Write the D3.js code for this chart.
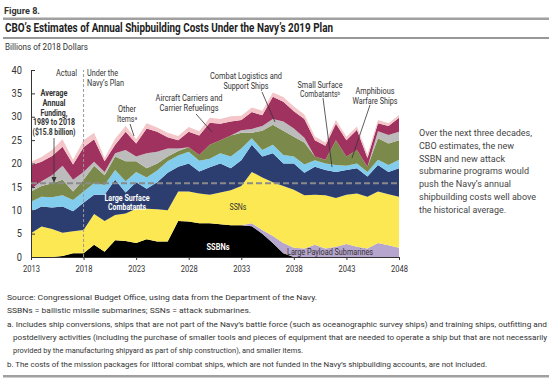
<!DOCTYPE html>
<html><head><meta charset="utf-8">
<script src="https://cdn.jsdelivr.net/npm/d3@7"></script>
<style>
body{margin:0;background:#fff;}
svg{display:block;}
text{font-family:'Roboto','Liberation Sans',sans-serif;}
</style></head><body>
<svg id="c" width="552" height="383"></svg>
<script>
const years = d3.range(2013, 2049);
const seriesKeys = ["SSBNs","Large Payload Submarines","SSNs","Large Surface Combatants","Small Surface Combatants","Amphibious Warfare Ships","Combat Logistics and Support Ships","Aircraft Carriers and Carrier Refuelings","Other Items"];
const ssbn  = [0,0,0,0.2,0.8,0.8,2.6,1.1,3.6,3.4,3.0,3.8,3.3,3.3,7.7,7.6,7.2,7.2,7.0,6.8,6.8,6.6,5.0,3.0,0.8,0,0,0,0,0,0,0,0,0,0,0];
const lps   = [0,0,0,0,0,0,0,0,0,0,0,0,0,0,0,0,0,0,0,0,0,0.6,0.8,1.5,2.2,2.0,1.8,2.6,1.8,2.2,2.8,2.2,1.8,3.0,2.5,2.0];
const ssn   = [5.1,6.5,6.0,5.0,4.7,5.0,6.6,6.6,5.4,5.9,7.3,6.5,6.9,6.7,6.3,6.4,6.4,6.1,6.8,7.5,8.4,11.0,11.2,11.5,12.2,12.4,11.4,10.7,11.4,10.4,10.5,11.4,11.1,11.0,10.9,10.9];
const lsc   = [4.6,4.3,4.6,5.6,4.3,5.8,4.1,5.6,7.5,4.5,5.7,4.3,5.8,8.0,5.3,6.0,4.7,5.9,6.2,4.7,5.5,5.8,4.5,6.2,4.8,5.6,4.8,6.0,5.4,5.6,5.3,5.4,4.3,5.7,4.8,6.1];
const ssc   = [2.1,2.1,2.2,2.4,2.4,2.4,2.5,2.1,2.1,2.4,2.2,2.4,2.5,2.5,2.4,2.5,2.3,1.8,2.2,2.5,2.5,1.4,1.4,1.8,1.8,1.5,1.8,1.4,1.4,1.5,0.9,1.0,1.0,1.1,1.5,1.8];
const amph  = [2.2,2.3,3.0,3.3,1.8,2.5,3.7,2.1,2.9,4.3,2.3,2.0,1.5,1.0,1.0,1.0,1.2,3.0,2.8,4.5,3.4,1.2,4.1,4.3,5.2,4.2,4.7,0.8,0.8,5.3,2.0,2.9,1.1,4.6,4.6,4.2];
const clss  = [0.6,1.0,1.7,3.0,2.5,1.7,0.9,0.7,0.7,2.4,1.0,3.2,2.5,1.7,0.5,0,0,0,0,0,0.5,0.8,1.0,1.2,2.0,1.8,1.0,0,0,0,0,0,0,1.5,1.8,1.8];
const cvn   = [5.0,4.2,4.1,4.1,3.3,5.3,4.8,2.3,1.8,3.9,2.8,5.3,4.3,2.4,1.8,3.3,4.2,4.7,3.5,3.0,2.2,3.6,2.3,4.8,4.2,3.7,4.0,3.5,3.0,3.5,3.5,4.3,1.9,1.7,1.9,3.0];
const other = [0.8,1.0,1.3,1.6,1.0,1.5,1.4,0.7,1.3,1.2,0.9,1.1,0.9,1.0,0.9,1.0,0.9,1.1,1.0,1.1,0.9,1.0,1.0,0.9,1.0,1.0,1.0,0.8,0.7,0.8,0.7,0.7,0.8,0.7,0.6,0.6];
const seriesValues = [ssbn,lps,ssn,lsc,ssc,amph,clss,cvn,other];
const colors = ["#000000","#b6a5cd","#fbe852","#2c3d70","#82cdee","#7b8a4b","#bcbcbc","#a0325f","#f4c6c9"];
const yTicks = [0,5,10,15,20,25,30,35,40];
const xTicks = [2013,2018,2023,2028,2033,2038,2043,2048];
const historicalAverage = 15.8;

const rows = years.map((y,i)=>{const r={year:y}; seriesKeys.forEach((k,j)=>r[k]=seriesValues[j][i]); return r;});
const svg = d3.select("#c");
const x = d3.scaleLinear().domain([2013,2048]).range([31,399]);
const y = d3.scaleLinear().domain([0,40]).range([257,70]);
const fit=(s,w)=>s.attr("textLength",w).attr("lengthAdjust","spacingAndGlyphs");

// header
fit(svg.append("text").attr("x",4).attr("y",14).attr("font-size",9.5).attr("font-weight","bold").attr("fill","#333").text("Figure 8."),36);
svg.append("rect").attr("x",3).attr("y",17.5).attr("width",546).attr("height",2.5).attr("fill","#a0a0a0");
fit(svg.append("text").attr("x",5).attr("y",32).attr("font-size",12.5).attr("font-weight","bold").attr("fill","#222").text("CBO’s Estimates of Annual Shipbuilding Costs Under the Navy’s 2019 Plan"),328);
svg.append("rect").attr("x",3).attr("y",37.5).attr("width",546).attr("height",1).attr("fill","#333");
fit(svg.append("text").attr("x",5).attr("y",50).attr("font-size",8.5).attr("fill","#333").text("Billions of 2018 Dollars"),83);

const stack = d3.stack().keys(seriesKeys)(rows);
const area = d3.area().x(d=>x(d.data.year)).y0(d=>y(d[0])).y1(d=>y(d[1]));
svg.append("g").selectAll("path").data(stack).join("path").attr("d",area).attr("fill",(d,i)=>colors[i]);

// axes
const ya = svg.append("g").attr("transform","translate(31,0)").call(d3.axisLeft(y).tickValues(yTicks).tickSize(-4).tickPadding(9));
ya.selectAll("text").attr("font-size",10).attr("fill","#333").each(function(){fit(d3.select(this),this.textContent.length*5.2);});
ya.select(".domain").attr("stroke","#333");
ya.selectAll(".tick line").attr("stroke","#333");
const xa = svg.append("g").attr("transform","translate(0,257)").call(d3.axisBottom(x).tickValues(xTicks).tickFormat(d3.format("d")).tickSize(3).tickPadding(5));
xa.selectAll("text").attr("font-size",9.5).attr("fill","#333").each(function(){fit(d3.select(this),17);});
xa.select(".domain").attr("stroke","#333");
xa.selectAll(".tick line").attr("stroke","#333");

// reference lines
svg.append("line").attr("x1",x(2013)).attr("x2",x(2048)).attr("y1",y(historicalAverage)).attr("y2",y(historicalAverage)).attr("stroke","#8a8a8a").attr("stroke-width",2).attr("stroke-dasharray","6,3");
svg.append("line").attr("x1",x(2018)).attr("x2",x(2018)).attr("y1",y(0)).attr("y2",y(40)).attr("stroke","#999").attr("stroke-width",1).attr("stroke-dasharray","3,2");

// annotations
function txt(lines,widths,xx,yy,opt={}){
  const t=svg.append("text").attr("x",xx).attr("y",yy).attr("font-size",opt.size||8.5).attr("fill",opt.fill||"#333")
    .attr("text-anchor",opt.anchor||"middle").attr("font-weight",opt.weight||"normal");
  lines.forEach((l,i)=>fit(t.append("tspan").attr("x",xx).attr("dy",i?(opt.lh||10):0).text(l),widths[i]));
  return t;
}
function ptr(x1,y1,x2,y2){svg.append("line").attr("x1",x1).attr("y1",y1).attr("x2",x2).attr("y2",y2).attr("stroke","#333").attr("stroke-width",0.8);}
txt(["Actual"],[21],77,76,{anchor:"end"});
txt(["Under the","Navy’s Plan"],[31,37],87,76,{anchor:"start"});
txt(["Average","Annual","Funding,","1989 to 2018","($15.8 billion)"],[27,23,27,42,43],54,96,{weight:"bold",lh:9.8});
ptr(54,138,54,180);
svg.append("path").attr("d","M51.5,177 L54,183 L56.5,177 Z").attr("fill","#333");
txt(["Other","Items\u1D43"],[18,20],127,112,{lh:10});
ptr(130,124,134,136);
txt(["Aircraft Carriers and","Carrier Refuelings"],[67,59],189,101,{lh:10});
ptr(196,114,212,132);
txt(["Combat Logistics and","Support Ships"],[72,45],246,79,{lh:10});
ptr(262,92,275,122);
txt(["Small Surface","Combatants\u1D47"],[45,40],320,88,{lh:9});
ptr(323,98,332,167);
txt(["Amphibious","Warfare Ships"],[39,45],375,94,{lh:10});
ptr(370,105,352,158);
txt(["Large Surface","Combatants"],[45,38],127,201,{weight:"bold",fill:"#fff",lh:8.5,size:9});
txt(["SSNs"],[17],238,210,{});
txt(["SSBNs"],[23],218,250,{weight:"bold",fill:"#fff"});
txt(["Large Payload Submarines"],[86],330,255,{});

txt(["Over the next three decades,","CBO estimates, the new","SSBN and new attack","submarine programs would","push the Navy’s annual","shipbuilding costs well above","the historical average."],[113,95,86,110,92,117,87],419,136,{anchor:"start",size:9,lh:12.8,fill:"#444"});

// footer
const foot = [
 ["Source: Congressional Budget Office, using data from the Department of the Navy.",7,300,310],
 ["SSBNs = ballistic missile submarines; SSNs = attack submarines.",7,313,244],
 ["a. Includes ship conversions, ships that are not part of the Navy’s battle force (such as oceanographic survey ships) and training ships, outfitting and",7,327,540],
 ["postdelivery activities (including the purchase of smaller tools and pieces of equipment that are needed to operate a ship but that are not necessarily",13,340,534],
 ["provided by the manufacturing shipyard as part of ship construction), and smaller items.",13,353,290],
 ["b. The costs of the mission packages for littoral combat ships, which are not funded in the Navy’s shipbuilding accounts, are not included.",7,367,480]
];
foot.forEach(f=>fit(svg.append("text").attr("x",f[1]).attr("y",f[2]).attr("font-size",7.5).attr("fill","#333").text(f[0]),f[3]));
svg.append("rect").attr("x",3).attr("y",375).attr("width",546).attr("height",2.5).attr("fill","#a0a0a0");
</script></body></html>
